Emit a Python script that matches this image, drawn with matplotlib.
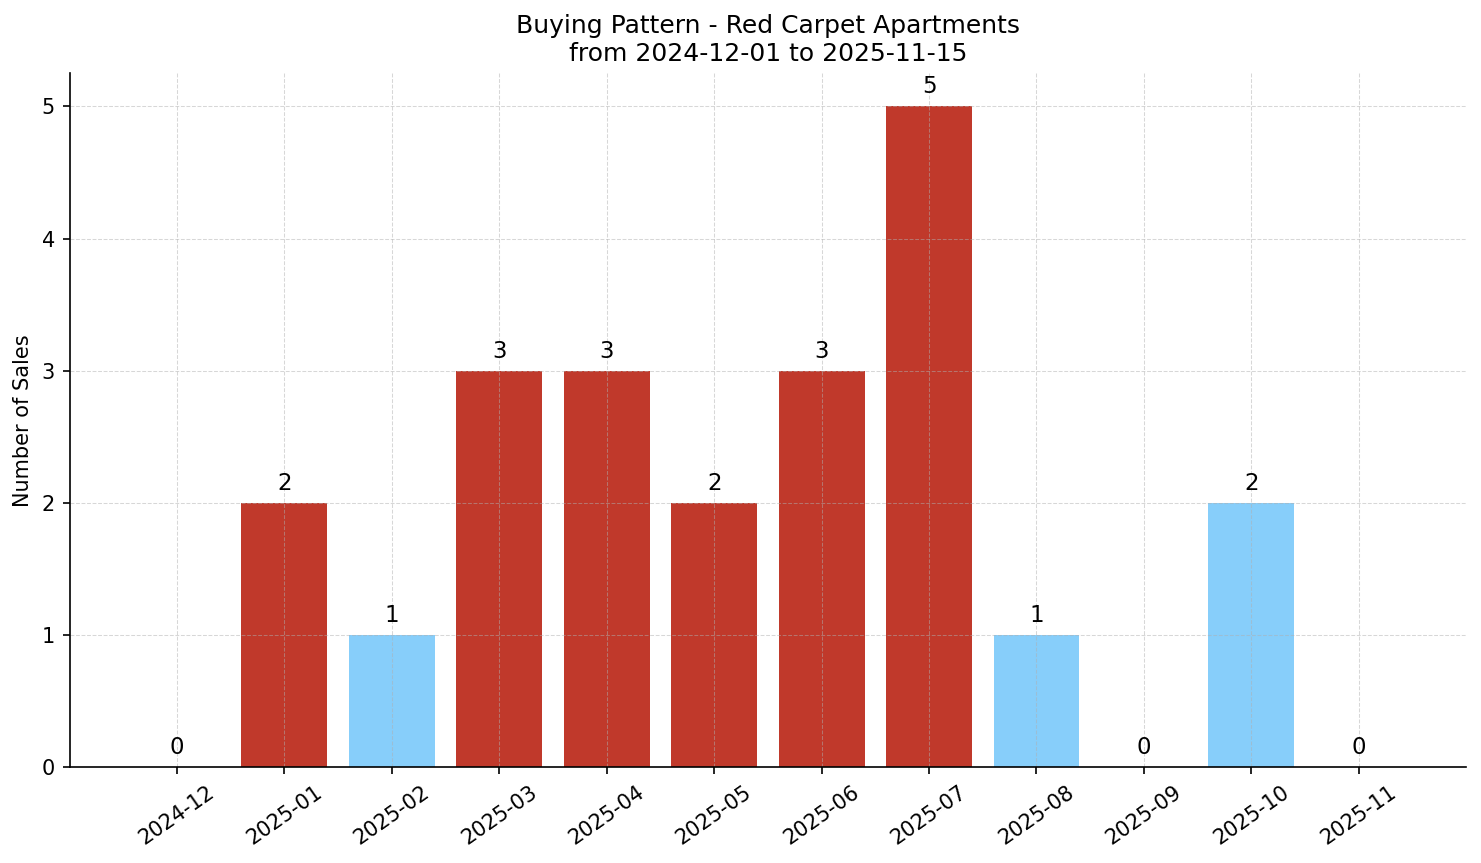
import matplotlib
matplotlib.use("Agg")
import matplotlib.pyplot as plt

months = ['2024-12', '2025-01', '2025-02', '2025-03', '2025-04', '2025-05',
          '2025-06', '2025-07', '2025-08', '2025-09', '2025-10', '2025-11']
sales = [0, 2, 1, 3, 3, 2, 3, 5, 1, 0, 2, 0]
# which months are highlighted in red
highlight = [False, True, False, True, True, True, True, True, False, False, False, False]

RED = '#c0392b'
BLUE = '#87cefa'
colors = [RED if h else BLUE for h in highlight]

fig, ax = plt.subplots(figsize=(1481 / 150, 863 / 150), dpi=150)
x = list(range(len(months)))
ax.bar(x, sales, width=0.8, color=colors)

for xi, v in zip(x, sales):
    ax.text(xi, v + 0.06, str(v), ha='center', va='bottom', fontsize=11)

ax.set_xticks(x)
ax.set_xticklabels(months, rotation=35, fontsize=10)
ax.tick_params(axis='y', labelsize=10)
ax.set_xlim(-1, len(months))
ax.set_ylim(0, max(sales) * 1.05)
ax.set_ylabel('Number of Sales', fontsize=10)
ax.set_title('Buying Pattern - Red Carpet Apartments\nfrom 2024-12-01 to 2025-11-15', fontsize=12)
ax.grid(True, linestyle='--', linewidth=0.5, color='#b0b0b0', alpha=0.5)
ax.spines['top'].set_visible(False)
ax.spines['right'].set_visible(False)

fig.subplots_adjust(left=0.047, right=0.99, top=0.915, bottom=0.111)
fig.savefig('out.png', dpi=150)
